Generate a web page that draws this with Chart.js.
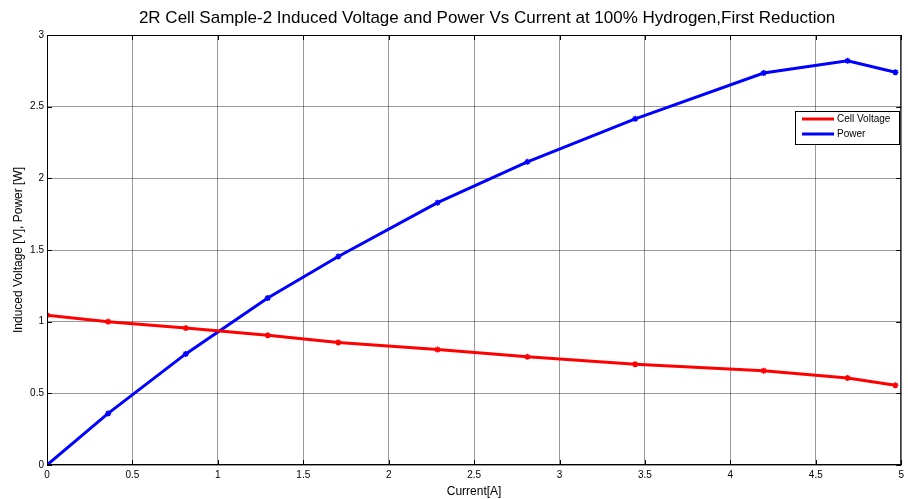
<!DOCTYPE html>
<html>
<head>
<meta charset="utf-8">
<script src="https://cdn.jsdelivr.net/npm/chart.js@4/dist/chart.umd.min.js"></script>
<style>
  html, body { margin: 0; padding: 0; background: #fff; }
  #wrap { width: 908px; height: 499px; }
</style>
</head>
<body>
<div id="wrap"><canvas id="chart"></canvas></div>
<script>
// values
const current = [0, 0.358, 0.812, 1.292, 1.705, 2.286, 2.812, 3.443, 4.195, 4.686, 4.966]
const cellVoltage = [1.045, 1.0, 0.955, 0.905, 0.855, 0.805, 0.755, 0.703, 0.658, 0.607, 0.556]
const power = [0, 0.36, 0.775, 1.165, 1.455, 1.83, 2.115, 2.415, 2.735, 2.82, 2.74]
const xTicks = [0, 0.5, 1, 1.5, 2, 2.5, 3, 3.5, 4, 4.5, 5]
const yTicks = [0, 0.5, 1, 1.5, 2, 2.5, 3]
const titleText = '2R Cell Sample-2 Induced Voltage and Power Vs Current at 100% Hydrogen,First Reduction'

const FONT = 'Liberation Sans, Arial, sans-serif'

const toPoints = (xs, ys) => xs.map((x, i) => ({ x, y: ys[i] }))

// matlab style title, box, inward tick marks and legend inside the axes
const matlabAxes = {
  id: 'matlabAxes',
  afterDraw(chart) {
    const { ctx, chartArea: a, scales } = chart
    ctx.save()

    ctx.fillStyle = '#000'
    ctx.font = '17px ' + FONT
    ctx.textAlign = 'center'
    ctx.textBaseline = 'middle'
    ctx.fillText(titleText, (a.left + a.right) / 2 + 13, 18)

    ctx.strokeStyle = '#000'
    ctx.lineWidth = 1
    ctx.strokeRect(a.left + 0.5, a.top + 0.5, a.right - a.left - 1, a.bottom - a.top - 1)
    ctx.beginPath()
    xTicks.forEach(v => {
      const px = Math.round(scales.x.getPixelForValue(v)) + 0.5
      ctx.moveTo(px, a.bottom); ctx.lineTo(px, a.bottom - 5)
      ctx.moveTo(px, a.top); ctx.lineTo(px, a.top + 5)
    })
    yTicks.forEach(v => {
      const py = Math.round(scales.y.getPixelForValue(v)) + 0.5
      ctx.moveTo(a.left, py); ctx.lineTo(a.left + 5, py)
      ctx.moveTo(a.right, py); ctx.lineTo(a.right - 5, py)
    })
    ctx.stroke()

    // legend box
    const bx = 795, by = 111, bw = 104, bh = 33
    ctx.fillStyle = '#fff'
    ctx.fillRect(bx, by, bw, bh)
    ctx.strokeStyle = '#000'
    ctx.strokeRect(bx + 0.5, by + 0.5, bw, bh)
    ctx.font = '10px ' + FONT
    ctx.textAlign = 'left'
    ctx.textBaseline = 'middle'
    chart.data.datasets.forEach((ds, i) => {
      const y = by + 8 + i * 15
      ctx.strokeStyle = ds.borderColor
      ctx.lineWidth = 3
      ctx.beginPath()
      ctx.moveTo(bx + 7, y); ctx.lineTo(bx + 39, y)
      ctx.stroke()
      ctx.fillStyle = '#000'
      ctx.fillText(ds.label, bx + 42, y)
    })
    ctx.restore()
  }
}

new Chart(document.getElementById('chart'), {
  type: 'scatter',
  data: {
    datasets: [
      {
        label: 'Cell Voltage',
        data: toPoints(current, cellVoltage),
        showLine: true,
        borderColor: '#ff0000',
        backgroundColor: '#ff0000',
        borderWidth: 3,
        pointStyle: 'star',
        pointRadius: 3,
        pointBorderWidth: 1.5
      },
      {
        label: 'Power',
        data: toPoints(current, power),
        showLine: true,
        borderColor: '#0000ff',
        backgroundColor: '#0000ff',
        borderWidth: 3,
        pointStyle: 'star',
        pointRadius: 3,
        pointBorderWidth: 1.5
      }
    ]
  },
  options: {
    responsive: true,
    maintainAspectRatio: false,
    animation: false,
    layout: { padding: { top: 35, right: 0, left: 0, bottom: 0 } },
    plugins: {
      legend: { display: false },
      tooltip: { enabled: false },
      title: { display: false }
    },
    scales: {
      x: {
        type: 'linear',
        min: 0,
        max: 5,
        afterBuildTicks: s => { s.ticks = xTicks.map(v => ({ value: v })) },
        afterFit: s => { s.height = 34 },
        ticks: {
          color: '#000',
          font: { family: FONT, size: 10 },
          padding: 4,
          maxRotation: 0,
          callback: v => String(v)
        },
        grid: { color: 'rgba(0,0,0,0.4)', drawTicks: false },
        border: { display: false },
        title: {
          display: true,
          text: 'Current[A]',
          color: '#000',
          font: { family: FONT, size: 12 },
          padding: { top: 0, bottom: 0 }
        }
      },
      y: {
        type: 'linear',
        min: 0,
        max: 3,
        afterBuildTicks: s => { s.ticks = yTicks.map(v => ({ value: v })) },
        afterFit: s => { s.width = 47 },
        ticks: {
          color: '#000',
          font: { family: FONT, size: 10 },
          padding: 3,
          callback: v => String(v)
        },
        grid: { color: 'rgba(0,0,0,0.4)', drawTicks: false },
        border: { display: false },
        title: {
          display: true,
          text: 'Induced Voltage [V], Power [W]',
          color: '#000',
          font: { family: FONT, size: 12 },
          padding: { top: 11, bottom: 0 }
        }
      }
    }
  },
  plugins: [matlabAxes]
})
</script>
</body>
</html>
